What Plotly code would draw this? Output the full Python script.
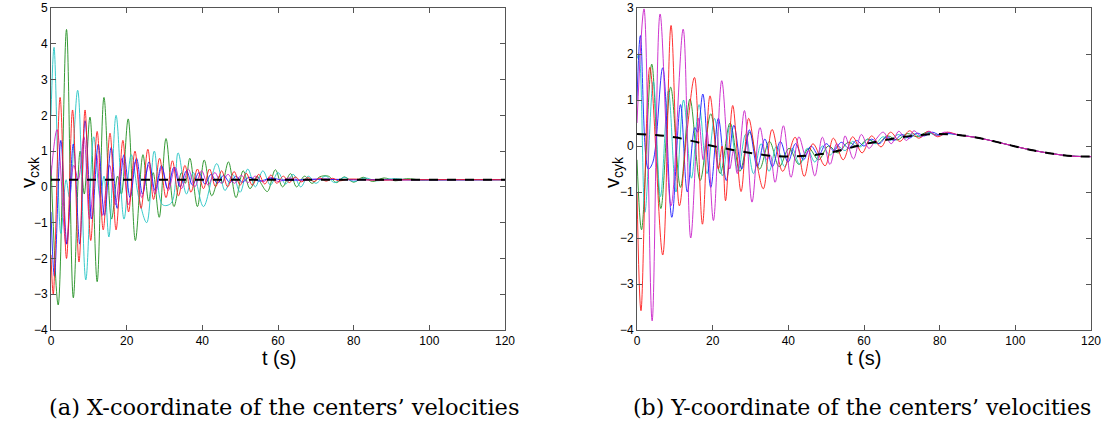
import plotly.graph_objects as go

W, H = 1102, 435

# ---------------- data: left panel (v_cxk), extrema ----------------
gx_t = [0, 1.9, 4.1, 5.9, 7.7, 8.8, 10.3, 12.2, 14.0, 16.0, 17.6, 18.6, 20.4, 22.3, 24.3, 25.8, 27.0, 28.6, 30.4, 32.5,
        34.5, 35.5, 36.7, 38.7, 40.5, 42.5, 44.5, 45.3, 46.9, 48.9, 50.8, 52.6, 54.5, 55.5, 57.2, 59.3, 61.2, 63.3,
        64.9, 67, 69, 71, 73.3, 75.5, 77.5, 80, 82.5, 85, 88, 91, 94, 98, 102, 120]
gx_v = [0.6, -3.3, 4.4, -3.1, 1.0, -0.2, 1.95, -2.65, 2.5, -0.9, 0.3, -0.2, 1.9, -1.5, 0.9, -0.4, 0.4, -0.85, 1.35, -0.55,
        0.4, 0.1, 0.8, -0.55, 0.75, -0.25, 0.3, 0.1, 0.7, -0.3, 0.45, -0.05, 0.3, 0.1, -0.13, 0.48, 0.0, 0.37,
        0.0, 0.3, 0.1, 0.28, 0.3, 0.12, 0.28, 0.13, 0.27, 0.15, 0.25, 0.17, 0.23, 0.19, 0.2, 0.2]

cx_t = [0, 0.8, 2.6, 4.0, 4.9, 7.05, 9.2, 11.3, 13.0, 14.0, 15.3, 17.2, 19.3, 21.2, 23.2, 25.3, 27.3, 29.5, 31.8, 33.6,
        35.8, 37.6, 40.3, 43.8, 46.0, 48.0, 50.0, 52.0, 54.0, 56.0, 58.0, 60.0, 62.0, 64.0, 66.0, 68.0, 70.0, 72.5,
        75, 77.5, 80, 83, 86, 90, 95, 120]
cx_v = [2.0, 3.9, -1.3, 0.2, -0.3, 2.7, -2.6, 1.4, -0.3, 0.3, -1.4, 2.0, -0.9, 0.9, -0.3, -1.0, 1.0, -0.5, -0.45, 0.95,
        -0.2, 0.4, -0.55, 0.65, -0.1, 0.35, -0.15, 0.5, 0.0, 0.45, 0.05, 0.4, 0.08, 0.35, 0.0, 0.3, 0.1, 0.3,
        0.12, 0.27, 0.15, 0.25, 0.17, 0.23, 0.2, 0.2]

rx_t = [0, 0.6, 2.4, 4.1, 5.7, 7.4, 9.0, 10.5, 12.2, 13.8, 15.6, 17.2, 19.0, 20.5, 22.2, 23.8, 25.6, 27.1, 28.7, 30.4,
        32.1, 33.7, 35.4, 37.0, 38.7, 40.3, 41.9, 43.5, 45.1, 46.7, 48.4, 50.0, 51.6, 53.2, 54.9, 56.5, 58.1, 59.7,
        61.4, 63.0, 64.6, 66.2, 67.9, 69.5, 71.1, 72.7, 74.4, 76.0, 79, 85, 95, 120]
rx_v = [-1.9, -3.0, 2.5, -2.0, 2.15, -2.1, 2.15, -1.5, 1.55, -1.2, 1.5, -1.2, 1.3, -0.7, 1.0, -0.6, 1.05, -0.35, 0.8, -0.3,
        0.73, -0.25, 0.6, -0.15, 0.5, -0.05, 0.5, 0.0, 0.45, 0.0, 0.43, 0.05, 0.38, 0.05, 0.35, 0.08, 0.33, 0.1,
        0.3, 0.12, 0.28, 0.14, 0.26, 0.15, 0.25, 0.16, 0.24, 0.17, 0.22, 0.19, 0.2, 0.2]

bx_t = [0, 0.9, 2.6, 4.2, 5.9, 7.6, 9.0, 10.8, 12.5, 14.1, 15.9, 17.5, 19.3, 20.9, 22.6, 24.2, 25.9, 27.5, 29.2, 30.8,
        32.5, 34.1, 35.8, 37.4, 39.1, 40.7, 42.3, 44.0, 45.6, 47.3, 48.9, 50.6, 52.3, 55, 58, 62, 68, 80, 120]
bx_v = [-0.7, -2.5, 1.3, -1.6, 1.2, -1.6, 1.85, -0.9, 1.2, -0.8, 1.1, -0.6, 0.9, -0.3, 0.8, -0.2, 0.7, -0.1, 0.6, -0.05,
        0.55, 0.0, 0.45, 0.05, 0.4, 0.08, 0.35, 0.1, 0.32, 0.12, 0.3, 0.13, 0.27, 0.16, 0.24, 0.18, 0.21, 0.2, 0.2]

mx_t = [0, 1.6, 4.0, 6.0, 7.2, 8.7, 10.2, 12.0, 13.5, 15.5, 17.0, 18.8, 20.5, 22.3, 24.0, 25.8, 27.5, 29.3, 31.0, 32.8,
        34.5, 36.3, 38.0, 39.8, 41.5, 43.3, 45.0, 46.8, 48.5, 50.3, 52.0, 54.0, 56.0, 58.0, 60.0, 63.0, 66.0, 70.0,
        80, 120]
mx_v = [0.3, 1.6, -1.6, 0.6, 0.2, 1.4, -0.9, 0.9, -0.8, 0.6, -0.5, 0.8, -0.5, 0.7, -0.3, 0.6, -0.2, 0.55, -0.1, 0.55,
        -0.05, 0.5, 0.0, 0.45, 0.05, 0.4, 0.1, 0.35, 0.1, 0.32, 0.12, 0.3, 0.14, 0.27, 0.15, 0.25, 0.17, 0.22,
        0.2, 0.2]

refx_t = [0, 120]
refx_v = [0.2, 0.2]

# ---------------- data: right panel (v_cyk) ----------------
refy_t = [0, 5, 10, 15, 20, 25, 30, 35, 40, 45, 50, 55, 60, 65, 70, 75, 80, 85, 90, 95, 100, 105, 110, 115, 120]
refy_v = [0.26, 0.24, 0.19, 0.1, 0.0, -0.08, -0.15, -0.21, -0.23, -0.21, -0.16, -0.07, 0.04, 0.12, 0.19, 0.24, 0.26,
          0.24, 0.18, 0.09, -0.01, -0.1, -0.17, -0.22, -0.23]

my_t = [0, 1.85, 4.0, 6.1, 9.0, 12.2, 14.2, 16.3, 17.5, 18.5, 20.2, 22.4, 24.5, 25.5, 26.5, 28.4, 30.4, 32.5, 34.3,
        35.2, 36.5, 38.7, 40.7, 42.8, 44.5, 45.3, 47.0, 49.0, 51.0, 52.8, 54.0, 55.0, 57.2, 59.3, 61.3, 63.2, 65.1,
        67.2, 69.2, 71.2, 73.2, 75.2, 77.2, 79.2, 81.2]
my_v = [0.5, 2.98, -3.8, 2.87, -1.3, 2.54, -2.0, 0.6, -0.3, 0.3, -1.62, 1.42, -0.5, -0.1, -0.6, 0.77, -1.22, 0.4, -0.3,
        -0.2, -0.79, 0.44, -0.68, 0.2, -0.2, -0.1, -0.65, 0.19, -0.4, 0.05, -0.1, 0.22, -0.28, 0.25, -0.05, 0.15, 0.3,
        0.05, 0.32, 0.12, 0.33, 0.2, 0.32, 0.22, 0.3]

ry_t = [0, 1.05, 3.4, 6.8, 9.0, 11.2, 13.2, 15.2, 17.3, 19.3, 21.5, 22.5, 23.4, 25.3, 27.5, 29.5, 31.5, 33.4, 35.7,
        38.5, 41.8, 44.2, 46.5, 49.7, 51.9, 54.5, 57.0, 59.5, 62.0, 64.5, 67.0, 69.5, 72.0, 74.5, 77.0, 79.5, 82.0]
ry_v = [-1.0, -3.58, 1.71, -2.37, 2.62, -1.3, 0.3, 1.49, -1.7, 1.09, -0.5, 0.0, -1.19, 0.88, -0.99, 0.6, -0.3, -0.93, 0.36,
        -0.55, 0.19, -0.66, 0.05, -0.43, 0.17, -0.3, 0.2, -0.15, 0.22, -0.02, 0.3, 0.1, 0.33, 0.17, 0.32, 0.2, 0.3]

by_t = [0, 0.9, 3.0, 4.2, 6.8, 9.2, 11.5, 13.3, 15.3, 16.0, 17.4, 19.5, 21.5, 23.6, 25.6, 27.7, 29.7, 31.8, 33.8, 35.8,
        37.9, 39.9, 41.9, 44.0, 46.0, 48.0, 50.0, 52.0, 54.0, 56.0, 58.0, 60.0, 62.0, 64.0, 66.0, 68.0, 70.0, 72.0,
        74.0, 76.0, 78.0, 80.0, 82.5]
by_v = [1.0, 2.4, -0.5, -0.35, 1.7, -1.55, 0.9, -1.0, 0.4, 0.3, 1.13, -0.9, 0.6, -0.75, 0.45, -0.5, 0.35, -0.45, 0.15,
        -0.45, 0.1, -0.35, 0.05, -0.3, 0.0, -0.2, 0.05, -0.1, 0.08, -0.05, 0.12, 0.0, 0.15, 0.05, 0.2, 0.12, 0.25, 0.17,
        0.28, 0.22, 0.3, 0.24, 0.27]

cy_t = [0, 0.5, 2.1, 4.3, 6.2, 8.3, 10.3, 12.3, 14.4, 16.4, 18.5, 20.5, 22.6, 24.6, 26.7, 28.7, 30.8, 32.8, 34.9, 36.9,
        39.0, 41.0, 43.0, 45.0, 47.0, 49.0, 51.0, 53.0, 55.0, 57.0, 59.0, 61.0, 63.0, 65.0, 67.0, 69.0, 71.0, 73.0,
        75.0, 77.0, 79.0, 82.0]
cy_v = [1.9, 2.0, -1.44, 1.4, -1.1, 1.2, -1.0, 1.0, -0.7, 0.9, -0.6, 0.6, -0.65, 0.45, -0.55, 0.25, -0.6, 0.05, -0.55,
        0.0, -0.45, -0.05, -0.4, -0.05, -0.35, 0.0, -0.2, 0.0, -0.1, 0.1, -0.02, 0.15, 0.05, 0.2, 0.12, 0.25, 0.17, 0.27,
        0.2, 0.29, 0.23, 0.27]

gy_t = [0, 1.2, 3.9, 6.3, 8.9, 11.5, 14.0, 16.7, 19.5, 22.0, 24.6, 27.2, 29.8, 32.4, 35.0, 37.6, 40.2, 42.8, 45.4, 48.0,
        50.6, 53.2, 55.8, 58.4, 61.0, 63.6, 66.2, 68.8, 71.4, 74.0, 76.6, 79.2, 82.0]
gy_v = [-0.3, -1.82, 1.78, -1.36, 1.28, -0.9, 1.02, -0.75, 0.7, -0.6, 0.5, -0.55, 0.3, -0.5, 0.1, -0.45, -0.05, -0.4,
        -0.05, -0.3, 0.0, -0.15, 0.08, -0.02, 0.15, 0.05, 0.22, 0.13, 0.27, 0.2, 0.3, 0.24, 0.28]

x_ticks = [0, 20, 40, 60, 80, 100, 120]
yl_ticks = [-4, -3, -2, -1, 0, 1, 2, 3, 4, 5]
yr_ticks = [-4, -3, -2, -1, 0, 1, 2, 3]

COLORS = {"g": "#1f8f1f", "c": "#22c4c4", "r": "#ff1a1a", "b": "#1a1aff", "m": "#c81fc8"}

fig = go.Figure()


def tail(ts, vs):
    """append the settled part of the reference curve after the series ends"""
    t_end = ts[-1]
    extra_t = [t for t in refy_t if t > t_end + 2]
    extra_v = [v for t, v in zip(refy_t, refy_v) if t > t_end + 2]
    return list(ts) + extra_t, list(vs) + extra_v


left = [("g", gx_t, gx_v), ("c", cx_t, cx_v), ("m", mx_t, mx_v), ("b", bx_t, bx_v), ("r", rx_t, rx_v)]
for c, t, v in left:
    fig.add_trace(go.Scatter(x=t, y=v, mode="lines", line=dict(color=COLORS[c], width=0.9, shape="spline", smoothing=1.0),
                             xaxis="x", yaxis="y", showlegend=False, hoverinfo="skip"))
fig.add_trace(go.Scatter(x=refx_t, y=refx_v, mode="lines", line=dict(color="black", width=2, dash="dash"),
                         xaxis="x", yaxis="y", showlegend=False))

right = [("g", gy_t, gy_v), ("c", cy_t, cy_v), ("b", by_t, by_v), ("r", ry_t, ry_v), ("m", my_t, my_v)]
for c, t, v in right:
    tt, vv = tail(t, v)
    fig.add_trace(go.Scatter(x=tt, y=vv, mode="lines", line=dict(color=COLORS[c], width=0.9, shape="spline", smoothing=1.0),
                             xaxis="x2", yaxis="y2", showlegend=False, hoverinfo="skip"))
fig.add_trace(go.Scatter(x=refy_t, y=refy_v, mode="lines", line=dict(color="black", width=2, dash="dash", shape="spline"),
                         xaxis="x2", yaxis="y2", showlegend=False))


def px_x(p):
    return p / W


def px_y(p):
    return 1 - p / H


axis_common = dict(showline=True, linecolor="#555555", linewidth=1, mirror="ticks", ticks="inside", ticklen=5,
                   tickcolor="#555555", showgrid=False, zeroline=False, automargin=False,
                   tickfont=dict(family="Liberation Sans, Arial", size=12, color="black"))

fig.update_layout(
    width=W, height=H, margin=dict(l=0, r=0, t=0, b=0, autoexpand=False),
    paper_bgcolor="white", plot_bgcolor="white",
    xaxis=dict(domain=[px_x(51), px_x(505)], range=[0, 120], tickvals=x_ticks, anchor="y", **axis_common),
    yaxis=dict(domain=[px_y(330), px_y(8)], range=[-4, 5], tickvals=yl_ticks, anchor="x", **axis_common),
    xaxis2=dict(domain=[px_x(637), px_x(1091)], range=[0, 120], tickvals=x_ticks, anchor="y2", **axis_common),
    yaxis2=dict(domain=[px_y(330), px_y(8)], range=[-4, 3], tickvals=yr_ticks, anchor="x2", **axis_common),
)

ann_font = dict(family="Liberation Sans, Arial", size=20, color="black")
cap_font = dict(family="DejaVu Serif", size=22.5, color="black")
cap_font_b = dict(family="DejaVu Serif", size=22, color="black")
annotations = [
    dict(text="t (s)", x=px_x(279), y=px_y(358), xref="paper", yref="paper", showarrow=False, font=ann_font,
         xanchor="center", yanchor="middle"),
    dict(text="t (s)", x=px_x(864), y=px_y(358), xref="paper", yref="paper", showarrow=False, font=ann_font,
         xanchor="center", yanchor="middle"),
    dict(text="v<sub>cxk</sub>", x=px_x(29), y=px_y(172), xref="paper", yref="paper", showarrow=False, font=ann_font,
         textangle=-90, xanchor="center", yanchor="middle"),
    dict(text="v<sub>cyk</sub>", x=px_x(613), y=px_y(172), xref="paper", yref="paper", showarrow=False, font=ann_font,
         textangle=-90, xanchor="center", yanchor="middle"),
    dict(text="(a) X-coordinate of the centers\u2019 velocities", x=px_x(284), y=px_y(407), xref="paper",
         yref="paper", showarrow=False, font=cap_font, xanchor="center", yanchor="middle"),
    dict(text="(b) Y-coordinate of the centers\u2019 velocities", x=px_x(862), y=px_y(407), xref="paper",
         yref="paper", showarrow=False, font=cap_font_b, xanchor="center", yanchor="middle"),
]
fig.update_layout(annotations=annotations)

# remove the default 8px page margin so the figure sits at the window's top-left corner
fig.write_html("out.html", config={"displayModeBar": False},
               post_script="document.body.style.margin='0';")
